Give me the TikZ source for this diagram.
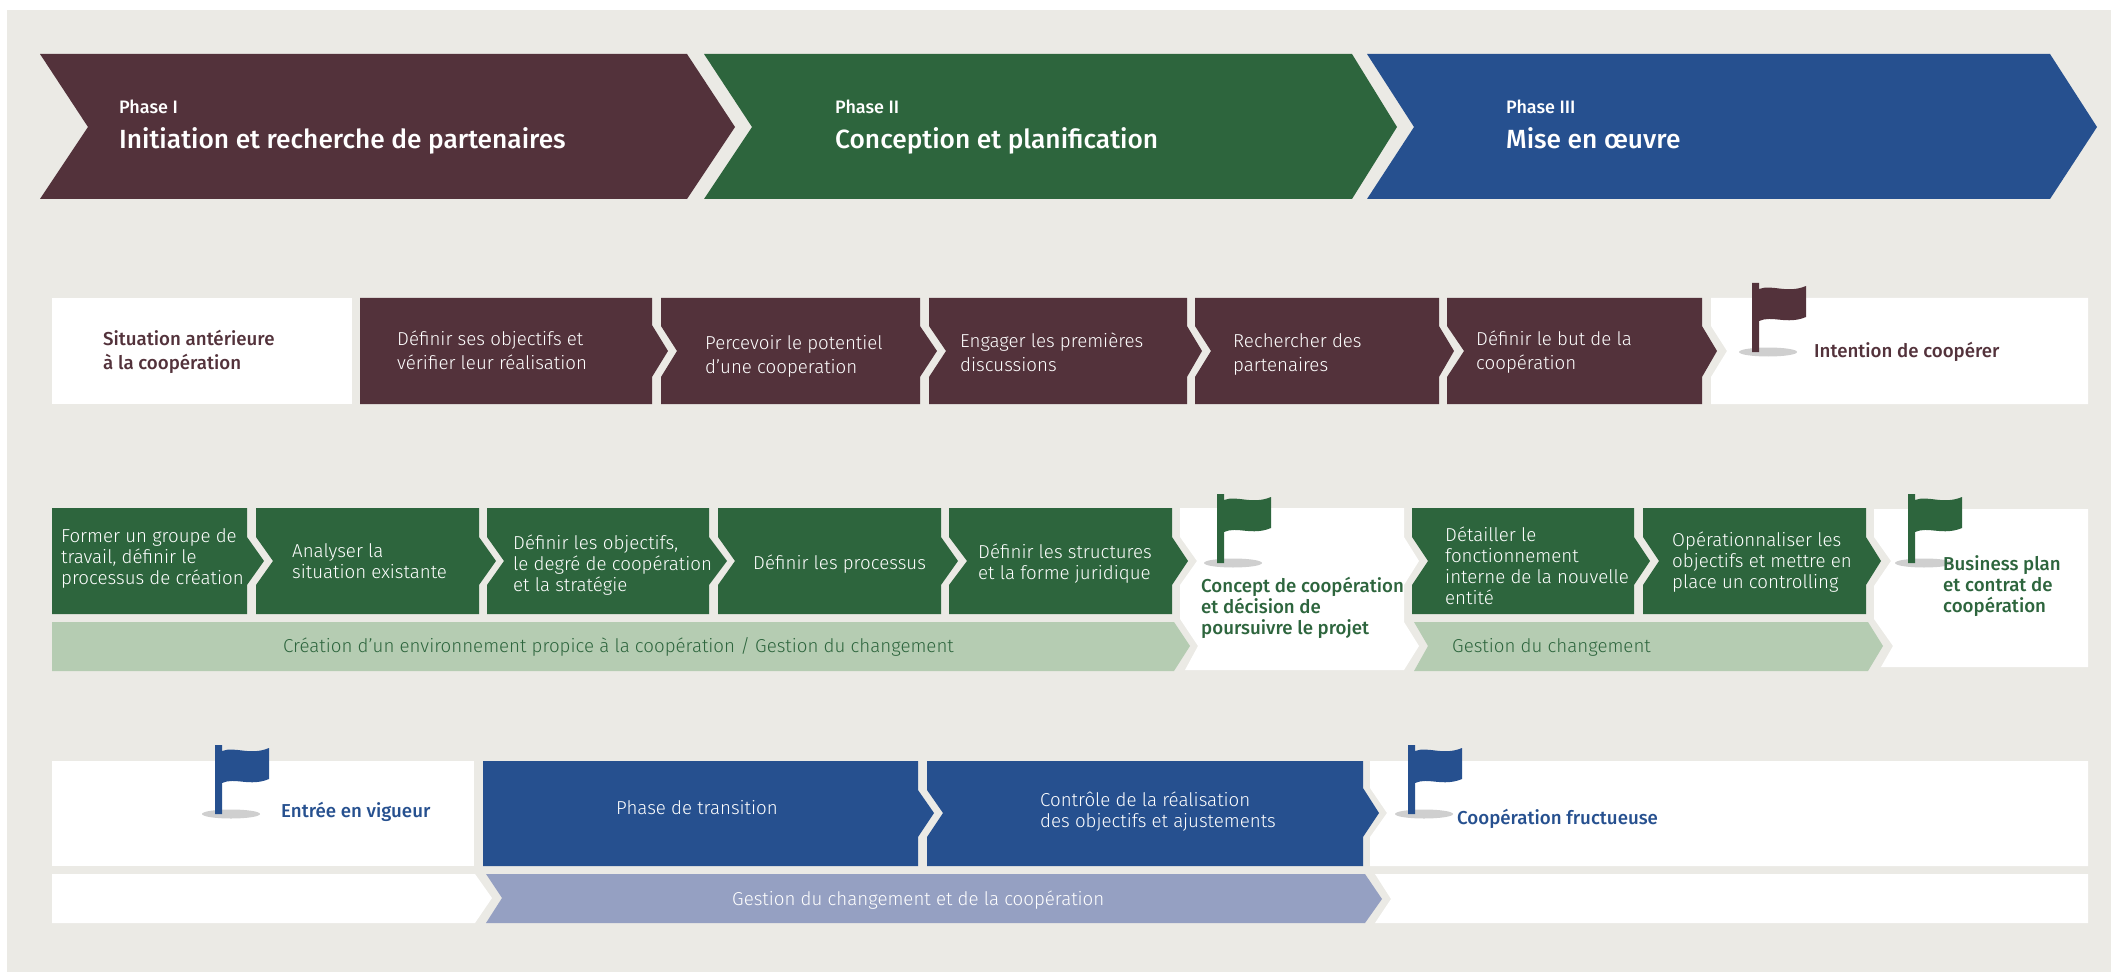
\documentclass[tikz,border=0pt]{standalone}
\usepackage{fontspec}
\setmainfont{Fira Sans}[BoldFont={Fira Sans Medium}]
\newfontfamily\lightfont{Fira Sans Light}
\definecolor{wine}{HTML}{53323B}
\definecolor{forest}{HTML}{2D653D}
\definecolor{royal}{HTML}{26508F}
\definecolor{sage}{HTML}{B5CCB2}
\definecolor{lavender}{HTML}{95A0C2}
\definecolor{paper}{HTML}{EBEAE5}
\definecolor{flagground}{HTML}{CFCFCF}
\tikzset{
  boxtext/.style = {anchor=base west, align=left, inner sep=0pt, text=white,
    font=\lightfont\fontsize{18.7}{24}\selectfont},
  greentext/.style = {boxtext, font=\lightfont\fontsize{18.7}{21}\selectfont},
  goaltext/.style = {boxtext, font=\fontsize{18.7}{21}\bfseries\selectfont},
  phasetext/.style = {boxtext, font=\fontsize{18}{21}\bfseries\selectfont},
  titletext/.style = {boxtext, font=\fontsize{26.3}{30}\bfseries\selectfont},
  pics/flagpole/.style = {code={
    \fill[flagground] (16,0) ellipse (29pt and 4.5pt);
    \fill[#1] (0,0) -- (0,-69) -- (7,-69) -- (7,-63)
      .. controls (20,-68) and (35,-58) .. (54,-66) -- (54,-35)
      .. controls (35,-27) and (20,-37) .. (7,-31) -- (7,0) -- cycle;
  }}
}
\begin{document}
\begin{tikzpicture}[x=1pt, y=-1pt]
  \useasboundingbox (0,0) rectangle (2111,973);
  \fill[white] (0,0) rectangle (2111,973);
  \fill[paper] (7,10) rectangle (2111,972);

  % phases
  \fill[wine] (40,54) -- (687,54) -- (735,127) -- (687,199) -- (40,199) -- (88,127) -- cycle;
  \fill[forest] (704,54) -- (1352,54) -- (1397,127) -- (1352,199) -- (704,199) -- (752,127) -- cycle;
  \fill[royal] (1367,54) -- (2050,54) -- (2097,127) -- (2050,199) -- (1367,199) -- (1414,127) -- cycle;
  \node [phasetext] (phaseone) at (119,114) {Phase I};
  \node [titletext] (titleone) at (119,149) {Initiation et recherche de partenaires};
  \node [phasetext] (phasetwo) at (835,114) {Phase II};
  \node [titletext] (titletwo) at (835,149) {Conception et planification};
  \node [phasetext] (phasethree) at (1506,114) {Phase III};
  \node [titletext] (titlethree) at (1506,149) {Mise en œuvre};

  % first row
  \fill[white] (52,298) rectangle (352,404);
  \fill[wine] (360,298) -- (652,298) -- (652,325) -- (668,351) -- (652,377) -- (652,404) -- (360,404) -- cycle;
  \fill[wine] (661,298) -- (920,298) -- (920,326) -- (937,351) -- (920,377) -- (920,404) -- (661,404) -- (661,377) -- (677,351) -- (661,326) -- cycle;
  \fill[wine] (929,298) -- (1187,298) -- (1187,326) -- (1202,351) -- (1187,377) -- (1187,404) -- (929,404) -- (929,377) -- (946,351) -- (929,326) -- cycle;
  \fill[wine] (1195,298) -- (1439,298) -- (1439,326) -- (1454,351) -- (1439,377) -- (1439,404) -- (1195,404) -- (1195,377) -- (1211,351) -- (1195,326) -- cycle;
  \fill[wine] (1447,298) -- (1702,298) -- (1702,326) -- (1717,351) -- (1702,377) -- (1702,404) -- (1447,404) -- (1447,377) -- (1464,351) -- (1447,326) -- cycle;
  \fill[white] (1711,298) -- (2088,298) -- (2088,404) -- (1711,404) -- (1711,377) -- (1727,351) -- (1711,326) -- cycle;
  \pic at (1752,352) {flagpole=wine};
  \node [goaltext, text=wine, font=\fontsize{18.7}{24}\bfseries\selectfont] (situation) at (103,369) {Situation antérieure\\à la coopération};
  \node [boxtext] (objectifs) at (397,369) {Définir ses objectifs et\\vérifier leur réalisation};
  \node [boxtext] (potentiel) at (705,373) {Percevoir le potentiel\\d’une cooperation};
  \node [boxtext] (discussions) at (960,371) {Engager les premières\\discussions};
  \node [boxtext] (partenaires) at (1233,371) {Rechercher des\\partenaires};
  \node [boxtext] (but) at (1476,369) {Définir le but de la\\coopération};
  \node [goaltext, text=wine] (intention) at (1814,357) {Intention de coopérer};

  % second row
  \fill[forest] (52,508) -- (247,508) -- (247,537) -- (264,561) -- (247,585) -- (247,614) -- (52,614) -- cycle;
  \fill[forest] (256,508) -- (479,508) -- (479,537) -- (496,561) -- (479,585) -- (479,614) -- (256,614) -- (256,585) -- (273,561) -- (256,537) -- cycle;
  \fill[forest] (487,508) -- (709,508) -- (709,537) -- (727,561) -- (709,585) -- (709,614) -- (487,614) -- (487,585) -- (504,561) -- (487,537) -- cycle;
  \fill[forest] (718,508) -- (941,508) -- (941,537) -- (958,561) -- (941,585) -- (941,614) -- (718,614) -- (718,585) -- (735,561) -- (718,537) -- cycle;
  \fill[forest] (949,508) -- (1172,508) -- (1172,537) -- (1188,561) -- (1172,585) -- (1172,614) -- (949,614) -- (949,585) -- (967,561) -- (949,537) -- cycle;
  \fill[sage] (52,622) -- (1174,622) -- (1190,646) -- (1174,671) -- (52,671) -- cycle;
  \fill[white] (1180,508) -- (1404,508) -- (1404,537) -- (1419,561) -- (1404,585) -- (1404,622) -- (1419,646) -- (1404,670) -- (1185,670) -- (1198,646) -- (1180,619) -- (1180,585) -- (1197,561) -- (1180,537) -- cycle;
  \fill[forest] (1412,508) -- (1634,508) -- (1634,537) -- (1650,561) -- (1634,585) -- (1634,614) -- (1412,614) -- (1412,585) -- (1428,561) -- (1412,537) -- cycle;
  \fill[forest] (1643,508) -- (1866,508) -- (1866,537) -- (1881,561) -- (1866,585) -- (1866,614) -- (1643,614) -- (1643,585) -- (1659,561) -- (1643,537) -- cycle;
  \fill[sage] (1414,622) -- (1868,622) -- (1883,646) -- (1868,671) -- (1414,671) -- (1428,646) -- cycle;
  \fill[white] (1874,509) -- (2088,509) -- (2088,667) -- (1881,667) -- (1893,646) -- (1874,619) -- (1874,586) -- (1891,561) -- (1874,537) -- cycle;
  \pic at (1217,563) {flagpole=forest};
  \pic at (1908,563) {flagpole=forest};
  \node [greentext] (groupe) at (61,584) {Former un groupe de\\travail, définir le\\processus de création};
  \node [greentext] (analyser) at (292,578) {Analyser la\\situation existante};
  \node [greentext] (degre) at (513,591) {Définir les objectifs,\\le degré de coopération\\et la stratégie};
  \node [greentext] (processus) at (753,569) {Définir les processus};
  \node [greentext] (structures) at (978,579) {Définir les structures\\et la forme juridique};
  \node [greentext] (detailler) at (1445,604) {Détailler le\\fonctionnement\\interne de la nouvelle\\entité};
  \node [greentext] (controlling) at (1672,588) {Opérationnaliser les\\objectifs et mettre en\\place un controlling};
  \node [greentext, text=forest] (environnement) at (283,652) {Création d’un environnement propice à la coopération / Gestion du changement};
  \node [greentext, text=forest] (gestion) at (1452,652) {Gestion du changement};
  \node [goaltext, text=forest] (concept) at (1201,634) {Concept de coopération\\et décision de\\poursuivre le projet};
  \node [goaltext, text=forest] (business) at (1943,612) {Business plan\\et contrat de\\coopération};

  % third row
  \fill[white] (52,761) rectangle (474,866);
  \fill[royal] (483,761) -- (918,761) -- (918,790) -- (934,813) -- (918,837) -- (918,866) -- (483,866) -- cycle;
  \fill[royal] (927,761) -- (1363,761) -- (1363,788) -- (1379,813) -- (1363,837) -- (1363,866) -- (927,866) -- (927,837) -- (943,813) -- (927,790) -- cycle;
  \fill[white] (1370,761) -- (2088,761) -- (2088,866) -- (1370,866) -- (1370,837) -- (1387,813) -- (1370,788) -- cycle;
  \fill[white] (52,874) -- (475,874) -- (492,898) -- (475,923) -- (52,923) -- cycle;
  \fill[lavender] (486,874) -- (1365,874) -- (1382,899) -- (1365,923) -- (486,923) -- (502,898) -- cycle;
  \fill[white] (1375,874) -- (2088,874) -- (2088,923) -- (1375,923) -- (1391,899) -- cycle;
  \pic at (215,814) {flagpole=royal};
  \pic at (1408,814) {flagpole=royal};
  \node [goaltext, text=royal] (vigueur) at (281,817) {Entrée en vigueur};
  \node [greentext] (transition) at (616,814) {Phase de transition};
  \node [greentext] (ajustements) at (1040,827) {Contrôle de la réalisation\\des objectifs et ajustements};
  \node [goaltext, text=royal] (fructueuse) at (1457,824) {Coopération fructueuse};
  \node [greentext] (cooperation) at (732,905) {Gestion du changement et de la coopération};
\end{tikzpicture}
\end{document}
